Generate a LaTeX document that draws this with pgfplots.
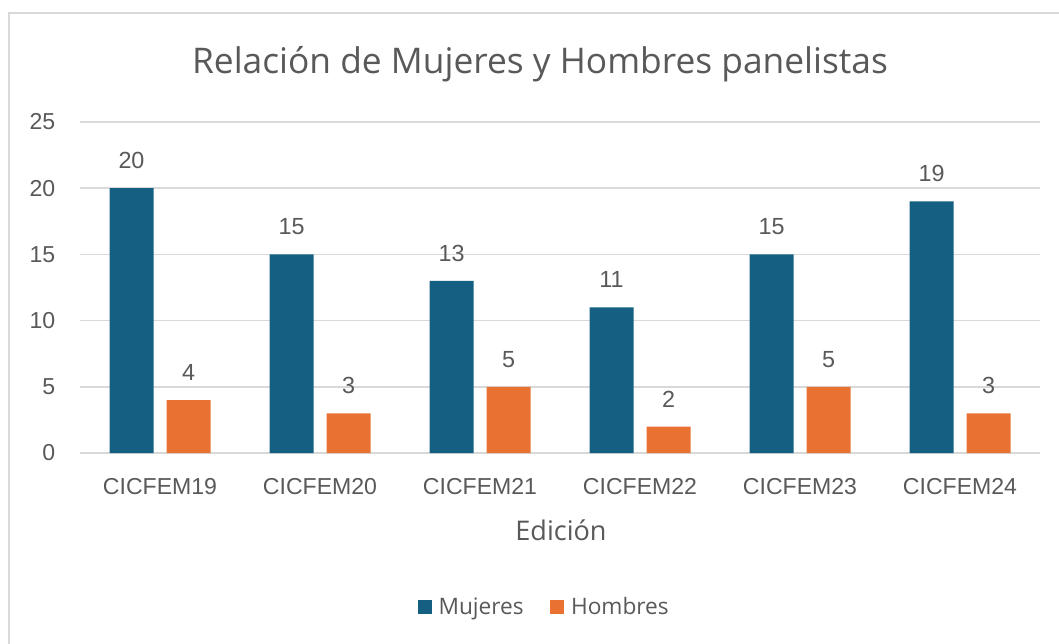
\documentclass[border=0pt]{standalone}
\usepackage{pgfplots}
\pgfplotsset{compat=1.18}
\usepackage{fontspec}
\setmainfont{Liberation Sans}
\newfontfamily\aptos{Open Sans}
\definecolor{mblue}{HTML}{156082}
\definecolor{horange}{HTML}{E97132}
\definecolor{txt}{HTML}{595959}
\definecolor{grd}{HTML}{D9D9D9}
\begin{document}
\begin{tikzpicture}[x=0.75pt,y=0.75pt]
\useasboundingbox (0,0) rectangle (1059,643);
\fill[white] (0,0) rectangle (1059,643);
\draw[grd, line width=1.5pt] (9,-10) |- (1070,630);
\node[txt, font=\aptos\fontsize{26.5}{31}\selectfont] at (540,579) {Relación de Mujeres y Hombres panelistas};
\node[txt, font=\aptos\fontsize{20.3}{24}\selectfont] at (561,113) {Edición};
\begin{axis}[
  at={(60pt,142.5pt)}, anchor=south west,
  scale only axis, width=720pt, height=248.25pt,
  xmin=-0.5, xmax=5.5, ymin=0, ymax=25,
  ybar=9.75pt, bar width=33pt,
  axis line style={draw=none},
  tick style={draw=none},
  ymajorgrids, grid style={grd, line width=1.2pt},
  xtick={0,1,2,3,4,5},
  xticklabels={CICFEM19,CICFEM20,CICFEM21,CICFEM22,CICFEM23,CICFEM24},
  ytick={0,5,10,15,20,25},
  /pgf/number format/assume math mode=true,
  tick label style={txt, font=\fontsize{17.3}{21}\selectfont},
  yticklabel style={xshift=-15pt},
  xticklabel style={yshift=-11.5pt},
  nodes near coords,
  every node near coord/.append style={txt, font=\fontsize{17.5}{21}\selectfont, yshift=11pt},
  legend style={at={(0.484,-0.465)}, anchor=center, draw=none, fill=none,
    legend columns=2, font=\aptos\fontsize{17}{20}\selectfont, text=txt,
    /tikz/every odd column/.append style={column sep=3pt},
    /tikz/every even column/.append style={column sep=18pt}},
  legend image code/.code={\fill[#1] (0pt,-5pt) rectangle (10.5pt,5.5pt);},
]
\addplot[fill=mblue, draw=none] coordinates {(0,20) (1,15) (2,13) (3,11) (4,15) (5,19)};
\addplot[fill=horange, draw=none] coordinates {(0,4) (1,3) (2,5) (3,2) (4,5) (5,3)};
\legend{Mujeres, Hombres}
\end{axis}
\end{tikzpicture}
\end{document}
